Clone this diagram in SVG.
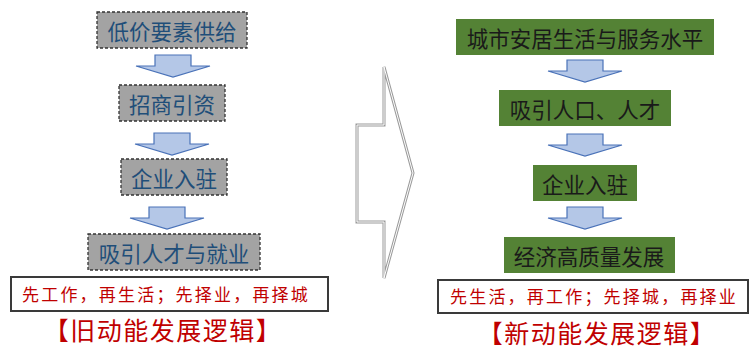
<svg xmlns="http://www.w3.org/2000/svg" width="749" height="350" viewBox="0 0 749 350">
<style>
.old rect{fill:#a3a3a3;stroke:#333;stroke-width:1.3;stroke-dasharray:3 2}
.old text{fill:#1f4e79}
.new rect{fill:#548235;stroke:none}
.new text{fill:#1a1a1a}
.lbl{font-family:"Noto Sans CJK SC","Noto Sans",sans-serif;font-size:21.5px;text-anchor:middle;dominant-baseline:central}
.arw{fill:#b4c7e7;stroke:#4a72b8;stroke-width:1.2;stroke-linejoin:miter}
.note rect{fill:#fff;stroke:#3a3a3a;stroke-width:2}
.note text{fill:#c00000;font-family:"Noto Sans CJK SC",sans-serif;font-size:17px;text-anchor:middle;letter-spacing:2.2px}
.ttl{fill:#c00000;font-family:"Noto Sans CJK SC",sans-serif;font-size:25px;text-anchor:middle;letter-spacing:1.5px}
</style>
<defs>
<path id="down" d="M-18,0 H18 V11 H37 L0,22 L-37,11 H-18 Z"/>
</defs>
<rect width="749" height="350" fill="#fff"/>

<g id="old1" class="old"><rect x="97" y="12" width="150" height="36"/><text class="lbl" x="172" y="30.5">低价要素供给</text></g>
<g id="old2" class="old"><rect x="119" y="85" width="106" height="36"/><text class="lbl" x="172" y="103.5">招商引资</text></g>
<g id="old3" class="old"><rect x="121" y="159" width="106" height="36"/><text class="lbl" x="174" y="177.5">企业入驻</text></g>
<g id="old4" class="old"><rect x="88" y="234" width="172" height="36"/><text class="lbl" x="174" y="252.5">吸引人才与就业</text></g>

<g id="new1" class="new"><rect x="456" y="19" width="258" height="36"/><text class="lbl" x="585" y="37.5">城市安居生活与服务水平</text></g>
<g id="new2" class="new"><rect x="499" y="90" width="172" height="36"/><text class="lbl" x="585" y="108.5">吸引人口、人才</text></g>
<g id="new3" class="new"><rect x="533" y="165" width="104" height="36"/><text class="lbl" x="585" y="183.5">企业入驻</text></g>
<g id="new4" class="new"><rect x="504" y="237" width="171" height="36"/><text class="lbl" x="589" y="255.5">经济高质量发展</text></g>

<g id="connectors">
<use href="#down" class="arw" x="173" y="55"/>
<use href="#down" class="arw" x="172" y="133"/>
<use href="#down" class="arw" x="167" y="207"/>
<use href="#down" class="arw" x="585" y="60"/>
<use href="#down" class="arw" x="585" y="134"/>
<use href="#down" class="arw" x="585" y="207"/>
</g>

<g id="bigarrow">
<path d="M357,125 H384 V67 L413,173 L384,278 V222 H357 Z" fill="#fff" stroke="#9a9a9a" stroke-width="3" stroke-linejoin="miter"/>
<path d="M357,125 H384 V67 L413,173 L384,278 V222 H357 Z" fill="none" stroke="#fff" stroke-width="1"/>
</g>

<g id="note-old" class="note"><rect x="11" y="277" width="317" height="34"/><text x="166" y="301">先工作，再生活；先择业，再择城</text></g>
<g id="note-new" class="note"><rect x="438" y="280" width="310" height="33"/><text x="594" y="303">先生活，再工作；先择城，再择业</text></g>

<text id="title-old" class="ttl" x="163" y="340">【旧动能发展逻辑】</text>
<text id="title-new" class="ttl" x="597" y="343">【新动能发展逻辑】</text>
</svg>
